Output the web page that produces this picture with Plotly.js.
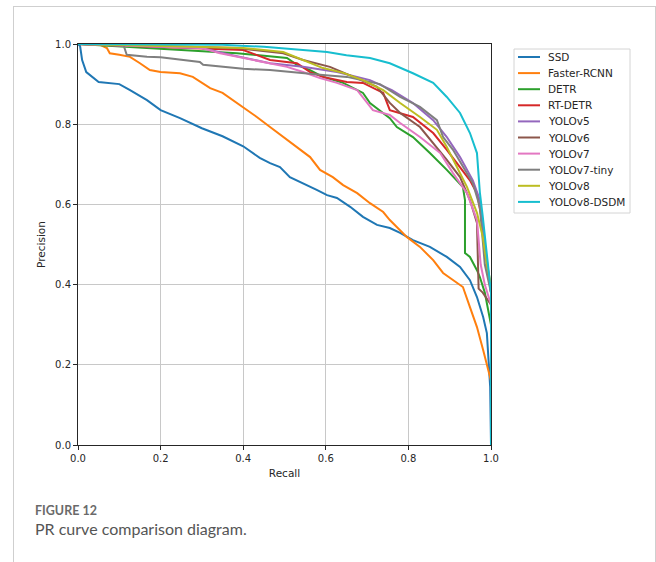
<!DOCTYPE html>
<html>
<head>
<meta charset="utf-8">
<script src="https://cdn.plot.ly/plotly-3.0.1.min.js"></script>
<style>
html,body{margin:0;padding:0;background:#fff;}
#wrap{position:relative;width:656px;height:562px;}
#chart{position:absolute;left:0;top:0;width:656px;height:562px;}
#frame{position:absolute;left:13px;top:6px;width:641px;height:560px;border-left:1px solid #cfcfcf;border-top:1px solid #cfcfcf;border-right:1px solid #cfcfcf;pointer-events:none;}
</style>
</head>
<body>
<div id="wrap"><div id="chart"></div><div id="frame"></div></div>
<script>
const modelNames = ["SSD","Faster-RCNN","DETR","RT-DETR","YOLOv5","YOLOv6","YOLOv7","YOLOv7-tiny","YOLOv8","YOLOv8-DSDM"];
const modelColors = ["#1f77b4","#ff7f0e","#2ca02c","#d62728","#9467bd","#8c564b","#e377c2","#7f7f7f","#bcbd22","#17becf"];

const ssdRecall = [0,0.005,0.01,0.02,0.05,0.10,0.126,0.167,0.2,0.247,0.30,0.35,0.40,0.44,0.465,0.489,0.513,0.545,0.578,0.603,0.627,0.659,0.69,0.724,0.755,0.78,0.811,0.852,0.893,0.925,0.949,0.966,0.981,0.99,0.998,1.0];
const ssdPrecision = [1.0,0.995,0.96,0.93,0.905,0.90,0.885,0.86,0.835,0.815,0.79,0.77,0.745,0.716,0.703,0.693,0.668,0.653,0.636,0.623,0.616,0.594,0.569,0.549,0.541,0.529,0.511,0.494,0.469,0.444,0.411,0.369,0.319,0.279,0.145,0.0];

const frcnnRecall = [0,0.05,0.07,0.077,0.10,0.126,0.15,0.174,0.2,0.247,0.278,0.30,0.32,0.35,0.385,0.40,0.433,0.465,0.497,0.53,0.562,0.586,0.617,0.642,0.676,0.707,0.739,0.755,0.796,0.828,0.86,0.884,0.908,0.932,0.949,0.966,0.981,0.993,1.0,1.0];
const frcnnPrecision = [1.0,1.0,0.99,0.977,0.973,0.968,0.952,0.935,0.93,0.927,0.918,0.903,0.89,0.878,0.853,0.843,0.818,0.793,0.768,0.743,0.718,0.686,0.668,0.648,0.628,0.603,0.581,0.561,0.519,0.494,0.461,0.429,0.411,0.394,0.344,0.294,0.237,0.187,0.16,0.0];

const detrRecall = [0,0.247,0.385,0.506,0.53,0.562,0.593,0.642,0.69,0.707,0.755,0.772,0.811,0.852,0.893,0.932,0.937,0.937,0.949,0.966,0.973,0.985,1.0,1.0];
const detrPrecision = [1.0,0.985,0.977,0.965,0.948,0.935,0.918,0.903,0.878,0.853,0.815,0.793,0.768,0.728,0.686,0.643,0.611,0.479,0.469,0.436,0.419,0.38,0.3,0.0];

const rtdetrRecall = [0,0.40,0.465,0.53,0.562,0.593,0.651,0.69,0.739,0.755,0.811,0.86,0.893,0.925,0.949,0.966,0.98,0.99,1.0,1.0];
const rtdetrPrecision = [1.0,0.985,0.96,0.952,0.93,0.918,0.905,0.903,0.878,0.835,0.818,0.778,0.736,0.693,0.66,0.628,0.55,0.45,0.38,0.0];

const v5Recall = [0,0.30,0.368,0.465,0.545,0.627,0.707,0.76,0.811,0.86,0.893,0.925,0.956,0.973,0.985,0.995,1.0,1.0];
const v5Precision = [1.0,0.99,0.973,0.952,0.943,0.93,0.91,0.885,0.853,0.81,0.768,0.718,0.66,0.611,0.5,0.42,0.38,0.0];

const v6Recall = [0,0.385,0.497,0.545,0.61,0.666,0.724,0.755,0.78,0.828,0.86,0.893,0.925,0.949,0.966,0.97,0.98,1.0,1.0];
const v6Precision = [1.0,0.99,0.977,0.96,0.943,0.918,0.893,0.853,0.828,0.793,0.753,0.711,0.668,0.611,0.554,0.39,0.38,0.35,0.0];

const v7Recall = [0,0.30,0.344,0.424,0.506,0.545,0.586,0.627,0.676,0.714,0.755,0.78,0.828,0.877,0.908,0.942,0.966,0.975,0.985,1.0,1.0];
const v7Precision = [1.0,0.99,0.977,0.96,0.943,0.93,0.915,0.903,0.885,0.835,0.823,0.803,0.768,0.728,0.678,0.628,0.561,0.45,0.4,0.35,0.0];

const v7tinyRecall = [0,0.11,0.118,0.167,0.2,0.223,0.264,0.295,0.303,0.344,0.40,0.465,0.53,0.593,0.651,0.707,0.731,0.78,0.828,0.869,0.884,0.908,0.932,0.956,0.973,0.985,1.0,1.0];
const v7tinyPrecision = [1.0,0.998,0.973,0.968,0.967,0.964,0.96,0.955,0.948,0.943,0.938,0.935,0.928,0.923,0.918,0.905,0.9,0.868,0.843,0.81,0.768,0.736,0.693,0.653,0.594,0.45,0.38,0.0];

const v8Recall = [0,0.40,0.497,0.545,0.593,0.642,0.69,0.739,0.78,0.828,0.869,0.893,0.918,0.942,0.966,0.98,0.99,1.0,1.0];
const v8Precision = [1.0,0.99,0.98,0.96,0.94,0.928,0.91,0.885,0.853,0.818,0.786,0.743,0.693,0.643,0.579,0.52,0.45,0.4,0.0];

const dsdmRecall = [0,0.35,0.45,0.55,0.603,0.65,0.707,0.755,0.811,0.86,0.893,0.925,0.949,0.966,0.969,0.973,0.98,0.99,0.995,1.0,1.0];
const dsdmPrecision = [1.0,0.998,0.993,0.985,0.98,0.972,0.965,0.952,0.927,0.903,0.868,0.828,0.778,0.728,0.678,0.63,0.57,0.48,0.43,0.38,0.0];

const recallSeries = [ssdRecall,frcnnRecall,detrRecall,rtdetrRecall,v5Recall,v6Recall,v7Recall,v7tinyRecall,v8Recall,dsdmRecall];
const precisionSeries = [ssdPrecision,frcnnPrecision,detrPrecision,rtdetrPrecision,v5Precision,v6Precision,v7Precision,v7tinyPrecision,v8Precision,dsdmPrecision];

const tickVals = [0,0.2,0.4,0.6,0.8,1.0];
const tickText = ["0.0","0.2","0.4","0.6","0.8","1.0"];

const traces = modelNames.map((n,i)=>({
  type:'scatter', mode:'lines', name:n,
  x:recallSeries[i], y:precisionSeries[i],
  line:{color:modelColors[i], width:2}
}));

const W=656,H=562,L=78,R=491,T=44,B=445;
const px = v => (v-L)/(R-L);
const py = v => (B-v)/(B-T);

const txtFont = {family:'DejaVu Sans, sans-serif', size:10.5, color:'#262626'};

const axisCommon = {
  range:[0,1], tickvals:tickVals, ticktext:tickText,
  showgrid:true, gridcolor:'#c8c8c8', gridwidth:1,
  zeroline:false, showline:true, linecolor:'#262626', linewidth:1, mirror:true,
  ticks:'outside', ticklen:4, tickcolor:'#262626', tickwidth:1,
  tickfont:{family:'DejaVu Sans, sans-serif', size:10, color:'#262626'}
};

// legend built from names/colours (matplotlib-style compact spacing)
const legendShapes = [{type:'rect', xref:'paper', yref:'paper', x0:px(514), x1:px(630), y0:py(49), y1:py(213),
  line:{color:'#d4d4d4', width:1}, fillcolor:'#ffffff', layer:'above'}];
const legendAnn = [];
modelNames.forEach((n,i)=>{
  const yy = 57 + 16.1*i;
  legendShapes.push({type:'line', xref:'paper', yref:'paper', x0:px(518), x1:px(540), y0:py(yy), y1:py(yy),
    line:{color:modelColors[i], width:2}, layer:'above'});
  legendAnn.push({xref:'paper', yref:'paper', x:px(546), y:py(yy), xanchor:'left', yanchor:'middle', showarrow:false,
    text:n, font:txtFont});
});

const layout = {
  width:W, height:H,
  margin:{l:L, r:W-R, t:T, b:H-B, pad:0},
  paper_bgcolor:'#ffffff', plot_bgcolor:'#ffffff',
  showlegend:false,
  xaxis:Object.assign({}, axisCommon, {title:{text:'Recall', font:txtFont, standoff:6}}),
  yaxis:Object.assign({}, axisCommon, {title:{text:'Precision', font:txtFont, standoff:7}}),
  shapes:legendShapes,
  annotations:legendAnn.concat([
    {xref:'paper', yref:'paper', x:px(33), y:py(510), xanchor:'left', yanchor:'middle', showarrow:false,
     text:'<b>FIGURE 12</b>', font:{family:'Lato', size:12.5, color:'#6a6a6a'}},
    {xref:'paper', yref:'paper', x:px(33), y:py(528), xanchor:'left', yanchor:'middle', showarrow:false,
     text:'PR curve comparison diagram.', font:{family:'Lato', size:16, color:'#555555'}}
  ])
};

Plotly.newPlot('chart', traces, layout, {displayModeBar:false, staticPlot:true});
</script>
</body>
</html>
